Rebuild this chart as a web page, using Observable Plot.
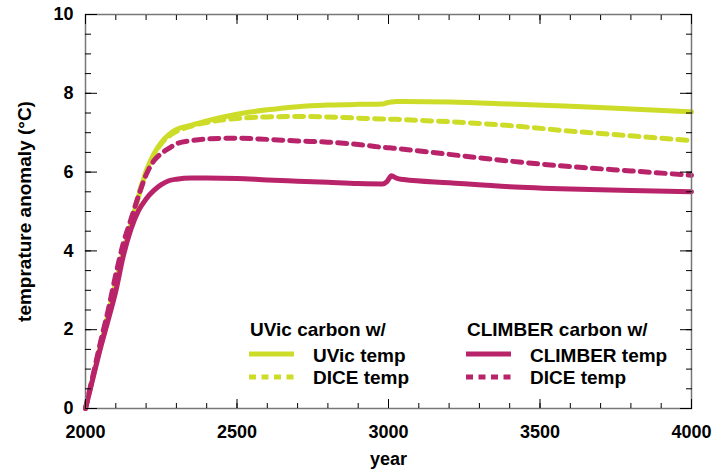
<!DOCTYPE html>
<html><head><meta charset="utf-8">
<script src="https://cdn.jsdelivr.net/npm/d3@7"></script>
<script src="https://cdn.jsdelivr.net/npm/@observablehq/plot@0.6"></script>
<style>
body{margin:0;background:#fff;}
#wrap{position:relative;width:713px;height:474px;font-family:"Liberation Sans",Arial,Helvetica,sans-serif;font-weight:bold;}
.lg{position:absolute;font-size:19px;line-height:1;white-space:nowrap;transform:translateY(-50%);color:#000;}
.sw{position:absolute;}
</style></head>
<body><div id="wrap"></div>
<script>
const years       = [2000,2025,2050,2075,2100,2125,2150,2175,2200,2225,2250,2275,2300,2350,2400,2500,2600,2700,2800,2900,2980,2995,3010,3025,3050,3200,3400,3600,3800,4000];
const uvicTemp    = [0,0.80,1.60,2.40,3.20,4.00,4.68,5.38,6.02,6.45,6.75,6.95,7.08,7.19,7.30,7.47,7.58,7.66,7.70,7.72,7.73,7.76,7.78,7.79,7.79,7.78,7.73,7.67,7.60,7.53];
const uvicDice    = [0,0.82,1.65,2.45,3.25,4.05,4.72,5.42,6.00,6.43,6.72,6.91,7.03,7.17,7.26,7.36,7.40,7.41,7.40,7.37,7.35,7.35,7.34,7.34,7.33,7.28,7.18,7.04,6.92,6.80];
const climberTemp = [0,0.78,1.55,2.25,2.98,3.88,4.55,5.02,5.32,5.53,5.68,5.78,5.82,5.85,5.85,5.84,5.80,5.77,5.74,5.71,5.70,5.76,5.91,5.85,5.81,5.73,5.63,5.57,5.53,5.50];
const climberDice = [0,0.85,1.70,2.50,3.40,4.20,4.80,5.40,5.93,6.28,6.47,6.60,6.72,6.80,6.84,6.86,6.83,6.79,6.76,6.70,6.63,6.62,6.61,6.60,6.58,6.45,6.28,6.14,6.03,5.92];

const xTicks = [2000,2500,3000,3500,4000];
const yTicks = [0,2,4,6,8,10];
const xMinor = d3.range(2000, 4001, 100);
const yMinor = d3.range(0, 10.01, 0.5);

const green = "#cddc29";
const crimson = "#b9236a";
const FONT = '"Liberation Sans", Arial, Helvetica, sans-serif';

const rows = vals => years.map((yr, i) => ({year: yr, t: vals[i]}));
const blank = () => "";

const chart = Plot.plot({
  width: 713, height: 474,
  marginLeft: 85, marginRight: 22, marginTop: 14, marginBottom: 66,
  x: {domain: [2000, 4000]},
  y: {domain: [0, 10]},
  style: {fontFamily: FONT, fontWeight: "bold", fontSize: "18px", color: "#000", background: "#fff", overflow: "visible"},
  marks: [
    Plot.line(rows(uvicTemp), {x: "year", y: "t", stroke: green, strokeWidth: 5, curve: "monotone-x"}),
    Plot.line(rows(uvicDice), {x: "year", y: "t", stroke: green, strokeWidth: 5, strokeDasharray: "9,7", curve: "monotone-x"}),
    Plot.line(rows(climberTemp), {x: "year", y: "t", stroke: crimson, strokeWidth: 5, curve: "monotone-x"}),
    Plot.line(rows(climberDice), {x: "year", y: "t", stroke: crimson, strokeWidth: 5, strokeDasharray: "9,7", curve: "monotone-x"}),
    Plot.frame({stroke: "#777", strokeWidth: 1.5}),
    // minor ticks (inward, all four sides)
    Plot.axisX(xMinor, {anchor: "bottom", tickSize: -5, tickFormat: blank, label: null}),
    Plot.axisX(xMinor, {anchor: "top", tickSize: -5, tickFormat: blank, label: null}),
    Plot.axisY(yMinor, {anchor: "left", tickSize: -6, tickFormat: blank, label: null}),
    Plot.axisY(yMinor, {anchor: "right", tickSize: -6, tickFormat: blank, label: null}),
    // major ticks
    Plot.axisX(xTicks, {anchor: "bottom", tickSize: -9, tickFormat: blank, label: null}),
    Plot.axisX(xTicks, {anchor: "top", tickSize: -9, tickFormat: blank, label: null}),
    Plot.axisY(yTicks, {anchor: "left", tickSize: -12, tickFormat: blank, label: null}),
    Plot.axisY(yTicks, {anchor: "right", tickSize: -12, tickFormat: blank, label: null}),
    // tick labels
    Plot.axisX(xTicks, {anchor: "bottom", tickSize: 0, tickPadding: 17, label: null, tickFormat: d => String(d), fontSize: 18}),
    Plot.axisY(yTicks, {anchor: "left", tickSize: 0, tickPadding: 12, label: null, tickFormat: d => String(d), fontSize: 18}),
    // axis titles
    Plot.text(["year"], {frameAnchor: "bottom", dy: 56, text: d => d, fontSize: 18}),
    Plot.text(["temprature anomaly (°C)"], {frameAnchor: "left", dx: -61, rotate: -90, textAnchor: "middle", text: d => d, fontSize: 19})
  ]
});

const wrap = document.getElementById("wrap");
wrap.appendChild(chart);

// legend overlay
const legendItems = [
  {kind: "head", text: "UVic carbon w/", left: 250, top: 329},
  {kind: "solid", color: green, left: 249, top: 354},
  {kind: "label", text: "UVic temp", left: 313, top: 355},
  {kind: "dash", color: green, left: 249, top: 377},
  {kind: "label", text: "DICE temp", left: 313, top: 377},
  {kind: "head", text: "CLIMBER carbon w/", left: 467, top: 329},
  {kind: "solid", color: crimson, left: 466, top: 354},
  {kind: "label", text: "CLIMBER temp", left: 530, top: 355},
  {kind: "dash", color: crimson, left: 466, top: 377},
  {kind: "label", text: "DICE temp", left: 530, top: 377}
];
for (const it of legendItems) {
  if (it.kind === "head" || it.kind === "label") {
    const d = document.createElement("div");
    d.className = "lg";
    d.style.left = it.left + "px";
    d.style.top = it.top + "px";
    d.textContent = it.text;
    wrap.appendChild(d);
  } else {
    const ns = "http://www.w3.org/2000/svg";
    const s = document.createElementNS(ns, "svg");
    s.setAttribute("class", "sw");
    s.setAttribute("width", 46);
    s.setAttribute("height", 8);
    s.style.left = it.left + "px";
    s.style.top = (it.top - 4) + "px";
    const l = document.createElementNS(ns, "line");
    l.setAttribute("x1", 0); l.setAttribute("x2", 45);
    l.setAttribute("y1", 4); l.setAttribute("y2", 4);
    l.setAttribute("stroke", it.color);
    l.setAttribute("stroke-width", 5);
    if (it.kind === "dash") l.setAttribute("stroke-dasharray", "7,5.5");
    s.appendChild(l);
    wrap.appendChild(s);
  }
}
</script>
</body></html>
